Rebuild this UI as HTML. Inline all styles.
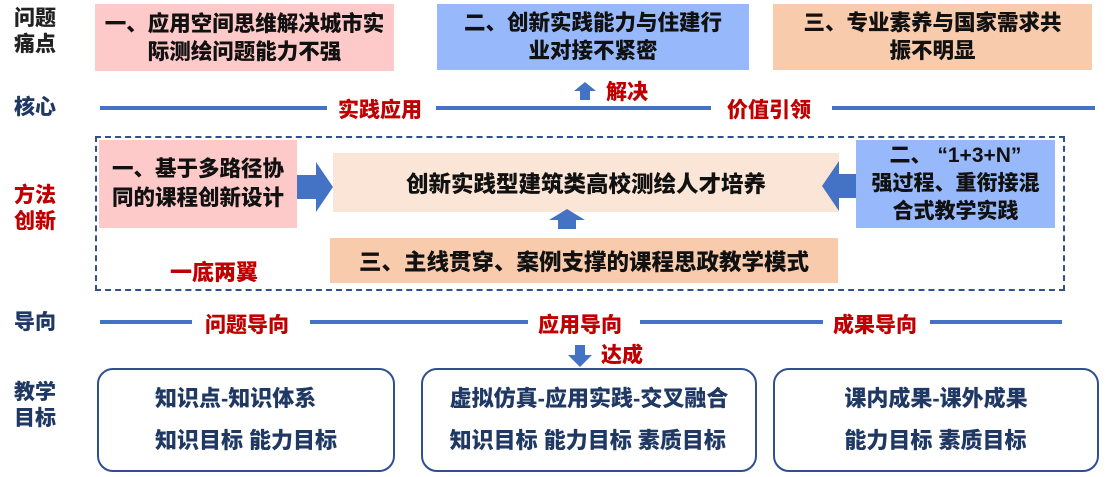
<!DOCTYPE html>
<html><head><meta charset="utf-8"><style>
body{margin:0;width:1116px;height:477px;background:#fff;position:relative;overflow:hidden;font-family:"Liberation Sans","Noto Sans CJK SC",sans-serif;font-weight:900}
.a{position:absolute;white-space:nowrap}
.box{position:absolute;display:flex;align-items:center;justify-content:center;text-align:center;color:#111;white-space:nowrap}
.lbl{position:absolute;font-size:21px;line-height:26px;width:52px;text-align:center}
.red{color:#c00000}
.line{position:absolute;height:4px;background:#4472c4}
.rb{position:absolute;border:2px solid #2f4f8f;border-radius:16px;display:flex;flex-direction:column;justify-content:center;align-items:center;font-size:22px;line-height:42px;color:#1f3864;white-space:nowrap}
</style></head><body>
<div class="lbl" style="left:9px;top:6px;color:#222">问题<br>痛点</div>
<div class="lbl" style="left:9px;top:95px;color:#1f3864">核心</div>
<div class="lbl red" style="left:9px;top:183px">方法<br>创新</div>
<div class="lbl" style="left:9px;top:310px;color:#1f3864">导向</div>
<div class="lbl" style="left:9px;top:380px;color:#1f3864">教学<br>目标</div>

<div class="box" style="left:95px;top:4px;width:299px;height:67px;background:#fdc9c9;font-size:21.5px;line-height:28px">一、应用空间思维解决城市实<br>际测绘问题能力不强</div>
<div class="box" style="left:437px;top:4px;width:312px;height:66px;background:#97b9fb;font-size:21.5px;line-height:28px">二、创新实践能力与住建行<br>业对接不紧密</div>
<div class="box" style="left:773px;top:4px;width:319px;height:66px;background:#f8cbad;font-size:21.5px;line-height:28px">三、专业素养与国家需求共<br>振不明显</div>

<div class="line" style="left:100px;top:106px;width:227px"></div>
<div class="a red" style="left:338px;top:94px;font-size:21px">实践应用</div>
<div class="line" style="left:436px;top:106px;width:275px"></div>
<div class="a red" style="left:727px;top:94px;font-size:21px">价值引领</div>
<div class="line" style="left:832px;top:106px;width:263px"></div>
<svg class="a" style="left:573px;top:81px" width="24" height="20"><polygon points="12,1 23,10 17,10 17,19 7,19 7,10 1,10" fill="#4472c4"/></svg>
<div class="a red" style="left:606px;top:76px;font-size:21px">解决</div>

<div class="a" style="left:95px;top:136px;width:966px;height:151px;border:2px dashed #2f528f"></div>
<div class="box" style="left:99px;top:140px;width:198px;height:88px;background:#fdc9c9;font-size:21.5px;line-height:29px">一、基于多路径协<br>同的课程创新设计</div>
<svg class="a" style="left:296px;top:161px" width="38" height="52"><polygon points="1,14 20,14 20,1 37,26 20,51 20,38 1,38" fill="#4472c4"/></svg>
<div class="box" style="left:333px;top:153px;width:506px;height:59px;background:#fbe5d6;font-size:22.5px">创新实践型建筑类高校测绘人才培养</div>
<svg class="a" style="left:821px;top:160px" width="36" height="52"><polygon points="35,14 18,14 18,1 1,26 18,51 18,38 35,38" fill="#4472c4"/></svg>
<div class="box" style="left:856px;top:140px;width:199px;height:88px;background:#97b9fb;font-size:21px;line-height:28px">二、 “1+3+N”<br>强过程、重衔接混<br>合式教学实践</div>
<svg class="a" style="left:548px;top:208px" width="38" height="22"><polygon points="19,1 37,12 28,12 28,21 10,21 10,12 1,12" fill="#4472c4"/></svg>
<div class="box" style="left:330px;top:238px;width:508px;height:45px;background:#f8cbad;font-size:22.5px">三、主线贯穿、案例支撑的课程思政教学模式</div>
<div class="a red" style="left:170px;top:255px;font-size:22px">一底两翼</div>

<div class="line" style="left:100px;top:320px;width:92px"></div>
<div class="a red" style="left:205px;top:309px;font-size:21px">问题导向</div>
<div class="line" style="left:310px;top:320px;width:218px"></div>
<div class="a red" style="left:538px;top:309px;font-size:21px">应用导向</div>
<div class="line" style="left:640px;top:320px;width:183px"></div>
<div class="a red" style="left:833px;top:309px;font-size:21px">成果导向</div>
<div class="line" style="left:930px;top:320px;width:132px"></div>
<svg class="a" style="left:567px;top:344px" width="26" height="24"><polygon points="8,1 18,1 18,11 25,11 13,23 1,11 8,11" fill="#4472c4"/></svg>
<div class="a red" style="left:601px;top:339px;font-size:21px">达成</div>

<div class="rb" style="left:97px;top:368px;width:294px;height:100px">知识点-知识体系<br>知识目标 能力目标</div>
<div class="rb" style="left:421px;top:368px;width:332px;height:100px">虚拟仿真-应用实践-交叉融合<br>知识目标 能力目标 素质目标</div>
<div class="rb" style="left:773px;top:368px;width:322px;height:100px">课内成果-课外成果<br>能力目标 素质目标</div>
</body></html>
